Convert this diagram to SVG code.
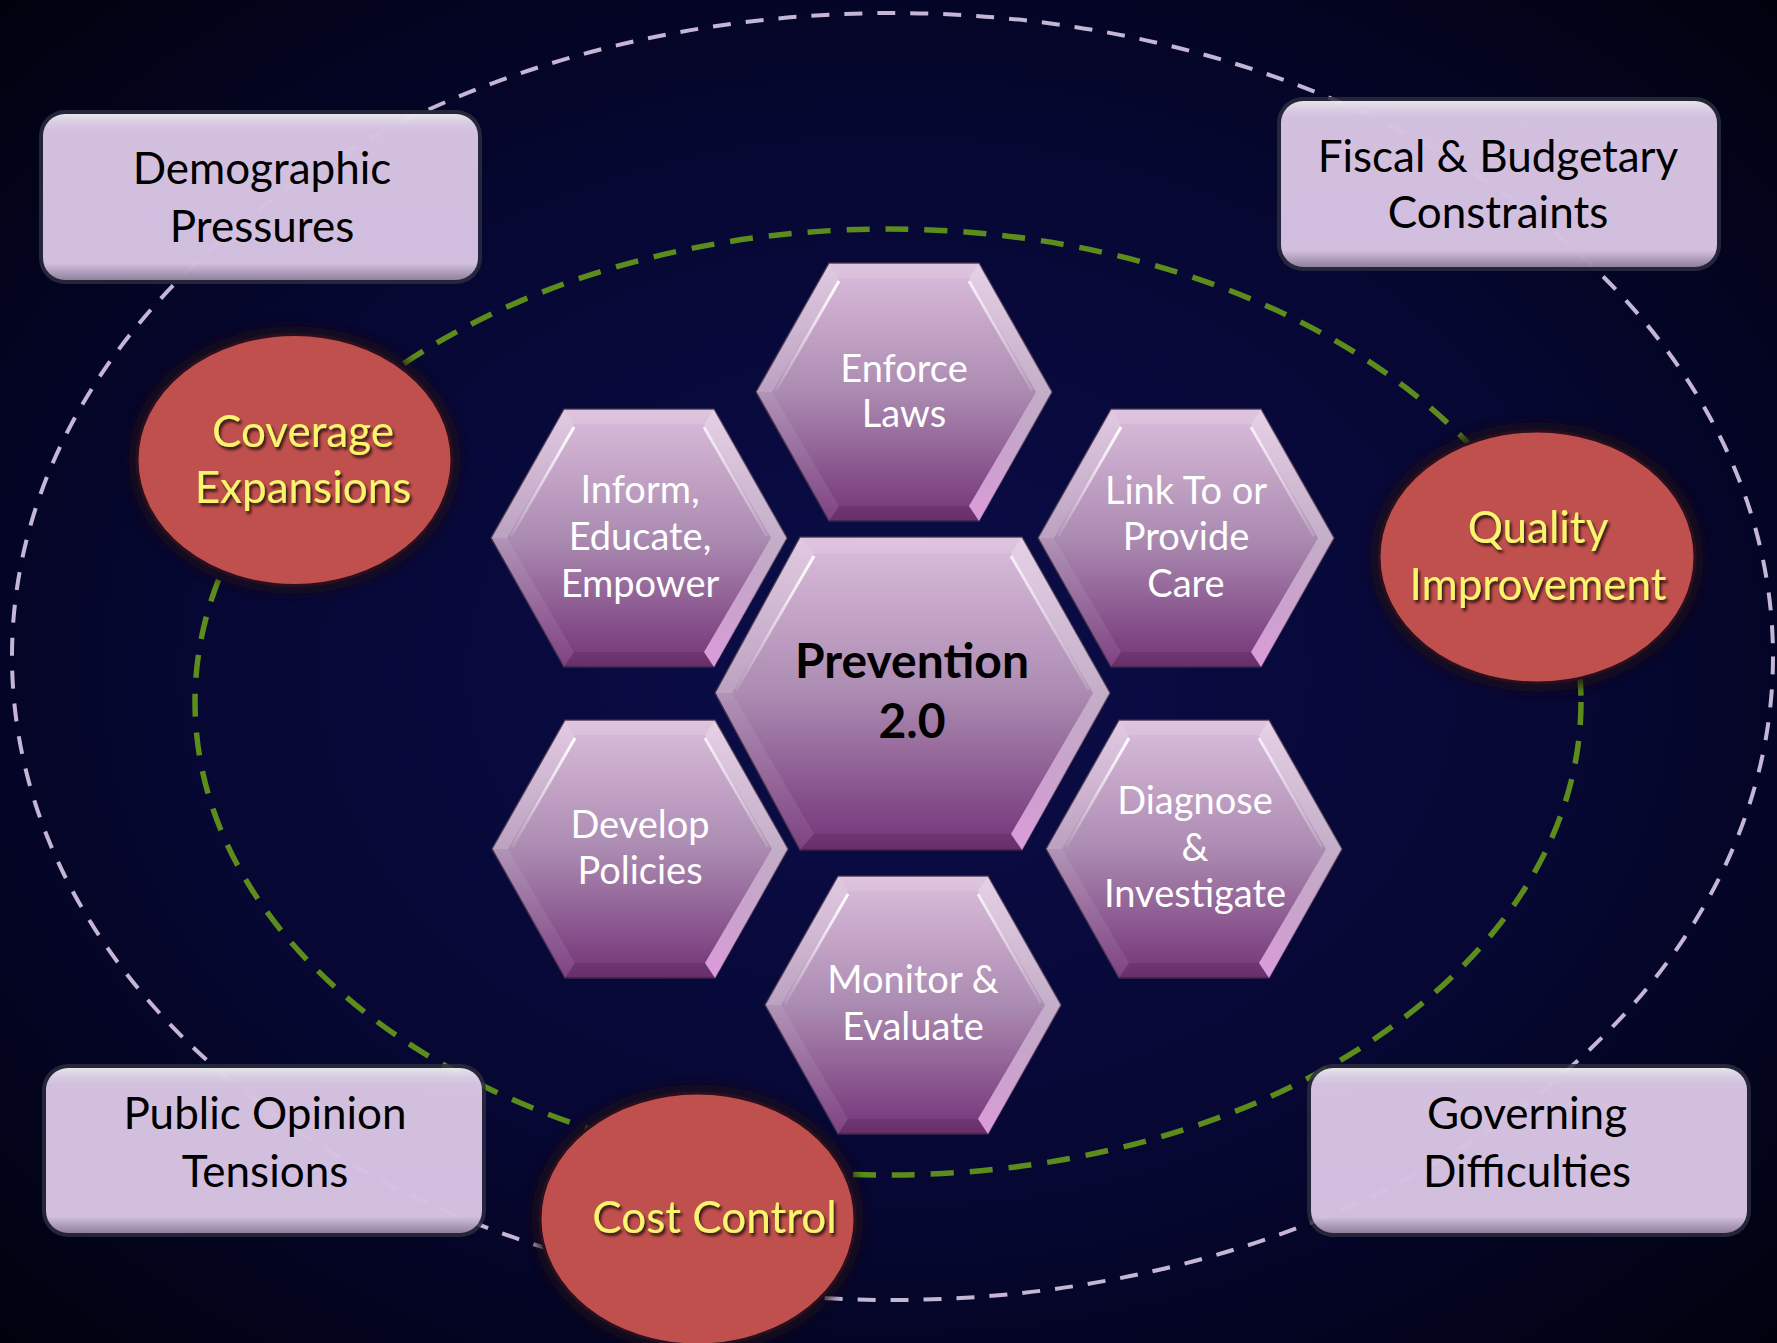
<svg xmlns="http://www.w3.org/2000/svg" width="1777" height="1343" viewBox="0 0 1777 1343">
<defs>
<radialGradient id="bg" cx="0.5" cy="0.5" r="0.72">
<stop offset="0" stop-color="#0b0d4a"/>
<stop offset="0.55" stop-color="#060732"/>
<stop offset="1" stop-color="#01010c"/>
</radialGradient>
<linearGradient id="hexFill" x1="0" y1="0" x2="0" y2="1">
<stop offset="0" stop-color="#dbbddc"/>
<stop offset="0.5" stop-color="#ab8bb1"/>
<stop offset="1" stop-color="#743378"/>
</linearGradient>
<linearGradient id="lrGrad" x1="0" y1="0" x2="0" y2="1">
<stop offset="0" stop-color="#ffffff" stop-opacity="0.3"/>
<stop offset="1" stop-color="#f6b6f6" stop-opacity="0.8"/>
</linearGradient>
<linearGradient id="hlL" x1="1" y1="0" x2="0" y2="1">
<stop offset="0" stop-color="#ffffff" stop-opacity="1"/>
<stop offset="1" stop-color="#ffffff" stop-opacity="0.1"/>
</linearGradient>
<linearGradient id="hlR" x1="0" y1="0" x2="1" y2="1">
<stop offset="0" stop-color="#ffffff" stop-opacity="0.8"/>
<stop offset="1" stop-color="#ffffff" stop-opacity="0.15"/>
</linearGradient>
<linearGradient id="boxFill" x1="0" y1="0" x2="0" y2="1">
<stop offset="0" stop-color="#ffffff"/>
<stop offset="0.05" stop-color="#f2e4fa"/>
<stop offset="0.1" stop-color="#ead5f5"/>
<stop offset="0.9" stop-color="#e9d3f4"/>
<stop offset="1" stop-color="#9e8daa"/>
</linearGradient>
<filter id="ts" x="-10%" y="-30%" width="120%" height="160%">
<feDropShadow dx="2" dy="3" stdDeviation="1.5" flood-color="#000" flood-opacity="0.75"/>
</filter>
<filter id="halo" x="-20%" y="-20%" width="140%" height="140%">
<feGaussianBlur stdDeviation="5"/>
</filter>
<style>
.ring{fill:none;stroke:#c6b6d6;stroke-width:4;stroke-dasharray:18 15}
.green{fill:none;stroke:#5c8c1c;stroke-width:5.5;stroke-dasharray:23 16}
.boxEdge{fill:#2c2c3e;opacity:0.85}
.box{fill:url(#boxFill);opacity:0.88}
.btxt{font-family:Lato,"Liberation Sans",sans-serif;font-size:44px;fill:#000;text-anchor:middle}
.haloC{fill:#1a0818;opacity:0.75;filter:url(#halo)}
.circ{fill:#c0504d;stroke:#2a0f1f;stroke-width:3}
.ytxt{font-family:Lato,"Liberation Sans",sans-serif;font-size:44px;fill:#f8f56e;text-anchor:middle;filter:url(#ts)}
.htxt{font-family:Lato,"Liberation Sans",sans-serif;font-size:38px;fill:#ffffff;text-anchor:middle}
.ptxt{font-family:Lato,"Liberation Sans",sans-serif;font-size:48px;font-weight:bold;fill:#000;text-anchor:middle}
.hOut{fill:url(#hexFill);stroke:#3c2a48;stroke-width:1.5}
.fTop{fill:#ffffff;opacity:0.12}
.fUL{fill:#ffffff;opacity:0.2}
.fLL{fill:#ffffff;opacity:0.08}
.fBot{fill:#000000;opacity:0.1}
.fLR{fill:url(#lrGrad)}
.fUR{fill:#ffffff;opacity:0.3}
</style>
<g id="hexS">
<polygon class="hOut" points="0,129 73,0 223,0 296,129 223,258 73,258"/>
<polygon class="fTop" points="73,0 223,0 213,15 83,15"/>
<polygon class="fUL" points="0,129 73,0 83,15 16,129"/>
<polygon class="fLL" points="0,129 16,129 83,243 73,258"/>
<polygon class="fBot" points="73,258 83,243 213,243 223,258"/>
<polygon class="fLR" points="223,258 213,243 280,129 296,129"/>
<polygon class="fUR" points="296,129 280,129 213,15 223,0"/>
<line x1="83" y1="18" x2="20" y2="127" stroke="url(#hlL)" stroke-width="3"/>
<line x1="213" y1="18" x2="276" y2="127" stroke="url(#hlR)" stroke-width="3"/>
</g>
</defs>

<rect x="0" y="0" width="1777" height="1343" fill="url(#bg)"/>

<g id="connectors">
<ellipse class="ring" cx="892.5" cy="656.5" rx="880.5" ry="643.5"/>
<ellipse class="green" cx="888" cy="702" rx="693" ry="473"/>
</g>

<g id="demographic">
<rect class="boxEdge" x="39" y="110" width="443" height="174" rx="26"/>
<rect class="box" x="43" y="114" width="435" height="166" rx="22"/>
<text class="btxt" x="262" y="184">Demographic</text>
<text class="btxt" x="262" y="242">Pressures</text>
</g>

<g id="fiscal">
<rect class="boxEdge" x="1277" y="97" width="444" height="174" rx="26"/>
<rect class="box" x="1281" y="101" width="436" height="166" rx="22"/>
<text class="btxt" x="1498" y="172">Fiscal &amp; Budgetary</text>
<text class="btxt" x="1498" y="228">Constraints</text>
</g>

<g id="public-opinion">
<rect class="boxEdge" x="42" y="1064" width="444" height="173" rx="26"/>
<rect class="box" x="46" y="1068" width="436" height="165" rx="22"/>
<text class="btxt" x="265" y="1129">Public Opinion</text>
<text class="btxt" x="265" y="1187">Tensions</text>
</g>

<g id="governing">
<rect class="boxEdge" x="1307" y="1064" width="444" height="173" rx="26"/>
<rect class="box" x="1311" y="1068" width="436" height="165" rx="22"/>
<text class="btxt" x="1527" y="1129">Governing</text>
<text class="btxt" x="1527" y="1187">Difficulties</text>
</g>

<g id="coverage">
<ellipse class="haloC" cx="294.5" cy="460" rx="166" ry="134"/>
<ellipse class="circ" cx="294.5" cy="460" rx="157.5" ry="125.5"/>
<text class="ytxt" x="303" y="447">Coverage</text>
<text class="ytxt" x="303" y="503">Expansions</text>
</g>

<g id="quality">
<ellipse class="haloC" cx="1537" cy="557" rx="167" ry="135"/>
<ellipse class="circ" cx="1537" cy="557" rx="158" ry="126"/>
<text class="ytxt" x="1538" y="543">Quality</text>
<text class="ytxt" x="1538" y="600">Improvement</text>
</g>

<g id="cost">
<ellipse class="haloC" cx="697.5" cy="1219" rx="166" ry="135"/>
<ellipse class="circ" cx="697.5" cy="1219" rx="157.5" ry="126"/>
<text class="ytxt" x="714.5" y="1233">Cost Control</text>
</g>

<g id="enforce">
<use href="#hexS" x="756" y="263"/>
<text class="htxt" x="904" y="382">Enforce</text>
<text class="htxt" x="904" y="427">Laws</text>
</g>

<g id="inform">
<use href="#hexS" x="491" y="409"/>
<text class="htxt" x="640" y="503">Inform,</text>
<text class="htxt" x="640" y="550">Educate,</text>
<text class="htxt" x="640" y="597">Empower</text>
</g>

<g id="link">
<use href="#hexS" x="1038" y="409"/>
<text class="htxt" x="1186" y="504">Link To or</text>
<text class="htxt" x="1186" y="550">Provide</text>
<text class="htxt" x="1186" y="597">Care</text>
</g>

<g id="develop">
<use href="#hexS" x="492" y="720"/>
<text class="htxt" x="640" y="838">Develop</text>
<text class="htxt" x="640" y="884">Policies</text>
</g>

<g id="diagnose">
<use href="#hexS" x="1046" y="720"/>
<text class="htxt" x="1195" y="814">Diagnose</text>
<text class="htxt" x="1195" y="861">&amp;</text>
<text class="htxt" x="1195" y="907">Investigate</text>
</g>

<g id="monitor">
<use href="#hexS" x="765" y="876"/>
<text class="htxt" x="913" y="993">Monitor &amp;</text>
<text class="htxt" x="913" y="1040">Evaluate</text>
</g>

<g id="prevention">
<g transform="translate(715,537)">
<polygon class="hOut" points="0,156 85,0 307,0 395,156 307,313 85,313"/>
<polygon class="fTop" points="85,0 307,0 296,16 99,16"/>
<polygon class="fUL" points="0,156 85,0 99,16 17,156"/>
<polygon class="fLL" points="0,156 17,156 99,297 85,313"/>
<polygon class="fBot" points="85,313 99,297 296,297 307,313"/>
<polygon class="fLR" points="307,313 296,297 378,156 395,156"/>
<polygon class="fUR" points="395,156 378,156 296,16 307,0"/>
<line x1="99" y1="19" x2="21" y2="153" stroke="url(#hlL)" stroke-width="3"/>
<line x1="296" y1="19" x2="374" y2="153" stroke="url(#hlR)" stroke-width="3"/>
</g>
<text class="ptxt" x="912" y="678">Prevention</text>
<text class="ptxt" x="912" y="738">2.0</text>
</g>
</svg>
